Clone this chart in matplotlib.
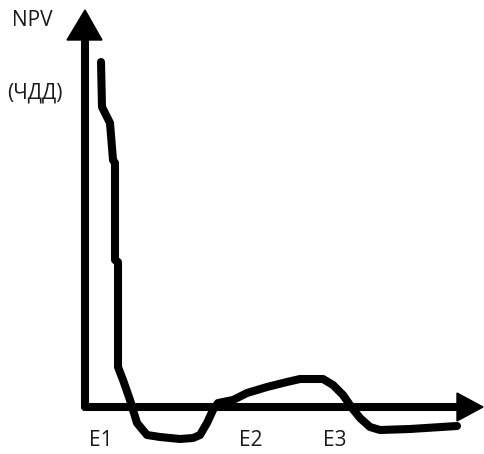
import numpy as np
import matplotlib.pyplot as plt

# hand-drawn NPV curve (x = rate, y = NPV, arbitrary units)
npv_x = [16, 17, 25, 28, 30, 30, 33, 33, 38, 45, 52, 62, 75, 95, 108, 115,
         122, 128, 133, 148, 162, 182, 202, 215, 238, 248, 258, 267, 275,
         285, 295, 325, 372]
npv_y = [345, 300, 284, 247, 244, 147, 145, 40, 27, 7, -16, -28, -30, -32,
         -31, -28, -16, -3, 4, 7, 14, 20, 25, 28, 28, 22, 12, -1, -11,
         -20, -23, -22, -19]

roots_x = [16, 166, 250]          # E1, E2, E3
root_labels = ["E1", "E2", "E3"]
x_axis_len = 398
y_axis_len = 397

fig = plt.figure(figsize=(4.84, 4.54), dpi=100)
ax = fig.add_axes([0, 0, 1, 1])
ax.set_xlim(-85, 399)
ax.set_ylim(-47, 407)
ax.axis("off")

lw = 5.8
# axes
ax.plot([0, x_axis_len - 22], [0, 0], color="black", lw=lw, solid_capstyle="round")
ax.plot([0, 0], [0, y_axis_len - 26], color="black", lw=lw, solid_capstyle="round")
ax.fill([x_axis_len - 26, x_axis_len, x_axis_len - 26],
        [14, 0, -14], color="black")
ax.fill([-18, 0, 17], [y_axis_len - 30, y_axis_len, y_axis_len - 30],
        color="black")

ax.plot(npv_x, npv_y, color="black", lw=lw, solid_capstyle="round",
        solid_joinstyle="round")

font = dict(family=["Open Sans", "DejaVu Sans"], fontsize=15, color="#1a1a1a")
ax.text(-73, 387, "NPV", ha="left", va="center", **font)
ax.text(-78, 314, "(ЧДД)", ha="left", va="center", **font)
for rx, lab in zip(roots_x, root_labels):
    ax.text(rx, -33, lab, ha="center", va="center", **font)

fig.savefig("out.png", dpi=100)
